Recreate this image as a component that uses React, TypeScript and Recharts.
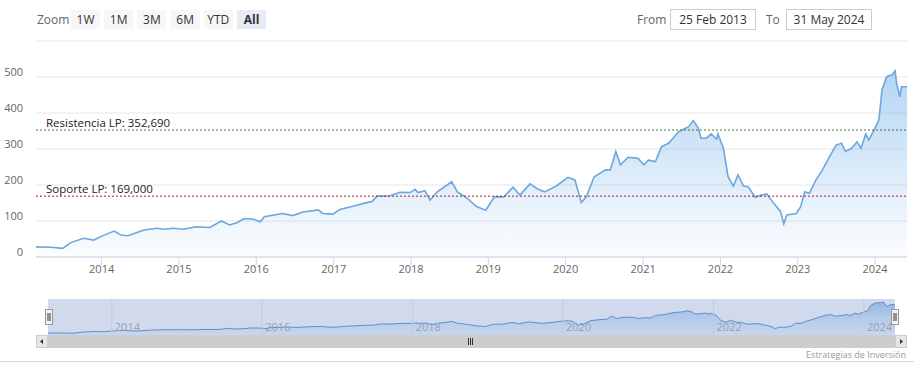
import React from "react";
import {
  Area,
  AreaChart,
  CartesianGrid,
  ReferenceArea,
  ReferenceLine,
  XAxis,
  YAxis,
} from "recharts";

const dates = [
  "2013-02-25", "2013-05-08", "2013-07-01", "2013-08-08", "2013-10-08", "2013-11-25",
  "2014-01-02", "2014-03-01", "2014-04-01", "2014-05-05", "2014-07-20", "2014-09-20",
  "2014-10-20", "2014-12-05", "2015-01-20", "2015-03-25", "2015-05-27", "2015-07-20",
  "2015-08-28", "2015-10-01", "2015-11-06", "2015-12-20", "2016-01-20", "2016-02-08",
  "2016-05-05", "2016-06-22", "2016-08-08", "2016-10-20", "2016-11-10", "2016-12-28",
  "2017-01-30", "2017-04-20", "2017-06-06", "2017-07-01", "2017-07-24", "2017-09-24",
  "2017-11-10", "2017-12-28", "2018-01-20", "2018-02-03", "2018-03-08", "2018-04-01",
  "2018-05-05", "2018-07-12", "2018-08-08", "2018-09-24", "2018-11-06", "2018-12-20",
  "2019-01-30", "2019-03-15", "2019-04-28", "2019-05-30", "2019-07-17", "2019-08-22",
  "2019-09-24", "2019-11-20", "2020-01-12", "2020-02-14", "2020-03-15", "2020-04-08",
  "2020-05-15", "2020-07-08", "2020-07-30", "2020-08-25", "2020-09-16", "2020-10-22",
  "2020-12-08", "2021-01-04", "2021-01-26", "2021-02-28", "2021-03-28", "2021-05-01",
  "2021-06-18", "2021-08-04", "2021-08-26", "2021-09-20", "2021-10-01", "2021-10-27",
  "2021-11-18", "2021-12-14", "2021-12-20", "2022-01-15", "2022-02-06", "2022-03-03",
  "2022-03-25", "2022-04-20", "2022-05-12", "2022-06-14", "2022-07-13", "2022-08-08",
  "2022-09-10", "2022-10-12", "2022-10-27", "2022-11-10", "2022-12-25", "2023-01-15",
  "2023-02-03", "2023-02-25", "2023-03-28", "2023-04-23", "2023-05-27", "2023-07-01",
  "2023-07-27", "2023-08-14", "2023-09-12", "2023-10-08", "2023-10-27", "2023-11-18",
  "2023-12-02", "2023-12-28", "2024-01-19", "2024-02-03", "2024-02-25", "2024-03-22",
  "2024-04-05", "2024-04-12", "2024-04-27", "2024-05-05", "2024-05-31",
];

const prices = [
  28, 27, 24, 40, 52, 47,
  58, 72, 61, 59, 75, 80,
  77, 80, 77, 84, 82, 100,
  89, 95, 107, 105, 98, 112,
  121, 115, 125, 131, 121, 119,
  132, 144, 151, 154, 169, 170,
  180, 179, 188, 179, 184, 158,
  181, 209, 181, 163, 140, 130,
  167, 167, 194, 172, 203, 189,
  181, 198, 221, 214, 151, 167,
  223, 242, 242, 293, 256, 277,
  274, 256, 269, 265, 306, 316,
  348, 362, 379, 357, 330, 330,
  342, 327, 342, 302, 223, 197,
  228, 197, 195, 166, 172, 175,
  149, 126, 92, 117, 121, 140,
  181, 177, 214, 237, 274, 311,
  316, 293, 302, 320, 302, 342,
  325, 353, 380, 464, 501, 506,
  517, 482, 445, 473, 473,
];

const yearTicks = [2014, 2015, 2016, 2017, 2018, 2019, 2020, 2021, 2022, 2023, 2024];
const navYears = [2014, 2016, 2018, 2020, 2022, 2024];
const priceTicks = [0, 100, 200, 300, 400, 500, 600];
const zoomButtons = ["1W", "1M", "3M", "6M", "YTD", "All"];

const resistance = 352.69;
const support = 169;
const fromLabel = "25 Feb 2013";
const toLabel = "31 May 2024";

const seriesData = dates.map((d, i) => ({ ts: Date.parse(d), price: prices[i] }));
const start = Date.parse("2013-02-25");
const end = Date.parse("2024-05-31");
const yearTs = yearTicks.map((y) => Date.parse(`${y}-01-01`));

const font = '"Open Sans", "Liberation Sans", sans-serif';

const fmt = (v: number) => v.toFixed(3).replace(".", ",");

const XTick = ({ x, y, payload }: any) => (
  <text x={x} y={y + 6} textAnchor="middle" fontSize={11} fill="#666" fontFamily={font}>
    {new Date(payload.value).getUTCFullYear()}
  </text>
);

const YTick = ({ y, payload }: any) =>
  payload.value === 600 ? (
    <g />
  ) : (
    <text x={23} y={y - 1} textAnchor="end" fontSize={11} fill="#666" fontFamily={font}>
      {payload.value}
    </text>
  );

const lineLabel = (text: string) => (props: any) => {
  const { viewBox } = props;
  return (
    <text x={viewBox.x + 10} y={viewBox.y - 3} fontSize={11.5} fill="#222" fontFamily={font}>
      {text}
    </text>
  );
};

const navLabel = (text: string) => (props: any) => {
  const { viewBox } = props;
  return (
    <text x={viewBox.x + 3} y={viewBox.y + viewBox.height - 4} fontSize={11} fill="#97a1b4" fontFamily={font}>
      {text}
    </text>
  );
};

function Handle({ left }: { left: number }) {
  return (
    <svg style={{ position: "absolute", left, top: 309 }} width={8} height={16}>
      <rect x={0.5} y={0.5} width={7} height={15} fill="#f2f2f2" stroke="#999" />
      <line x1={3} y1={4} x2={3} y2={12} stroke="#333" />
      <line x1={5} y1={4} x2={5} y2={12} stroke="#333" />
    </svg>
  );
}

function ScrollButton({ left, dir }: { left: number; dir: "l" | "r" }) {
  return (
    <svg style={{ position: "absolute", left, top: 335 }} width={12} height={13}>
      <rect x={0.5} y={0.5} width={11} height={12} fill="#e6e6e6" stroke="#ccc" />
      {dir === "l" ? (
        <path d="M4 6.5 L7 4 L7 9 Z" fill="#333" />
      ) : (
        <path d="M8 6.5 L5 4 L5 9 Z" fill="#333" />
      )}
    </svg>
  );
}

export default function App() {
  return (
    <div
      style={{
        position: "absolute",
        left: 0,
        top: 0,
        width: 914,
        height: 372,
        background: "#fff",
        fontFamily: font,
        overflow: "hidden",
      }}
    >
      {/* range selector */}
      <div style={{ position: "absolute", left: 37, top: 10, height: 19, lineHeight: "19px", fontSize: 12, color: "#666" }}>
        Zoom
      </div>
      {zoomButtons.map((b, i) => (
        <div
          key={b}
          style={{
            position: "absolute",
            left: 71 + i * 33.2,
            top: 10,
            width: 29,
            height: 19,
            lineHeight: "19px",
            textAlign: "center",
            fontSize: 12,
            color: "#333",
            fontWeight: b === "All" ? 700 : 400,
            background: b === "All" ? "#e6ebf5" : "#f7f7f7",
          }}
        >
          {b}
        </div>
      ))}
      <div style={{ position: "absolute", left: 637, top: 10, height: 19, lineHeight: "19px", fontSize: 12, color: "#666" }}>
        From
      </div>
      <div
        style={{
          position: "absolute",
          left: 670,
          top: 9,
          width: 84,
          height: 19,
          lineHeight: "19px",
          border: "1px solid #ccc",
          textAlign: "center",
          fontSize: 12,
          color: "#333",
        }}
      >
        {fromLabel}
      </div>
      <div style={{ position: "absolute", left: 766, top: 10, height: 19, lineHeight: "19px", fontSize: 12, color: "#666" }}>
        To
      </div>
      <div
        style={{
          position: "absolute",
          left: 786,
          top: 9,
          width: 84,
          height: 19,
          lineHeight: "19px",
          border: "1px solid #ccc",
          textAlign: "center",
          fontSize: 12,
          color: "#333",
        }}
      >
        {toLabel}
      </div>

      {/* main chart */}
      <div style={{ position: "absolute", left: 0, top: 0 }}>
        <AreaChart width={914} height={290} data={seriesData} margin={{ top: 41, right: 7, bottom: 0, left: 0 }}>
          <defs>
            <linearGradient id="priceFill" x1="0" y1="0" x2="0" y2="1">
              <stop offset="0%" stopColor="#7cb5ec" stopOpacity={0.95} />
              <stop offset="100%" stopColor="#7cb5ec" stopOpacity={0.04} />
            </linearGradient>
          </defs>
          <CartesianGrid vertical={false} stroke="#e6e6e6" />
          <XAxis
            dataKey="ts"
            type="number"
            domain={[start, end]}
            ticks={yearTs}
            height={33}
            tickSize={8}
            tick={<XTick />}
            stroke="#ccd6eb"
            interval={0}
          />
          <YAxis
            width={36}
            domain={[0, 600]}
            ticks={priceTicks}
            axisLine={false}
            tickLine={false}
            tick={<YTick />}
            interval={0}
          />
          <Area
            type="linear"
            dataKey="price"
            stroke="#6ea6dd"
            strokeWidth={1.6}
            fill="url(#priceFill)"
            dot={false}
            activeDot={false}
            isAnimationActive={false}
          />
          <ReferenceLine
            y={resistance}
            stroke="#3b7a45"
            strokeDasharray="2 2"
            label={lineLabel(`Resistencia LP: ${fmt(resistance)}`)}
          />
          <ReferenceLine
            y={support}
            stroke="#b0182e"
            strokeDasharray="2 2"
            label={lineLabel(`Soporte LP: ${fmt(support)}`)}
          />
        </AreaChart>
      </div>

      {/* navigator */}
      <div style={{ position: "absolute", left: 0, top: 299 }}>
        <AreaChart width={914} height={36} data={seriesData} margin={{ top: 0, right: 19, bottom: 0, left: 48 }}>
          <defs>
            <linearGradient id="navFill" x1="0" y1="0" x2="0" y2="1">
              <stop offset="0%" stopColor="#5f97d8" stopOpacity={0.9} />
              <stop offset="100%" stopColor="#9cc3ec" stopOpacity={0.3} />
            </linearGradient>
          </defs>
          <XAxis dataKey="ts" type="number" domain={[start, end]} hide />
          <YAxis domain={[-4, 564]} hide />
          <ReferenceArea x1={start} x2={end} y1={-4} y2={564} fill="#6685c2" fillOpacity={0.3} stroke="none" />
          {navYears.map((y) => (
            <ReferenceLine
              key={y}
              x={Date.parse(`${y}-01-01`)}
              stroke="#c2cadb"
              label={navLabel(String(y))}
            />
          ))}
          <Area
            type="linear"
            dataKey="price"
            stroke="#5b8fd0"
            strokeWidth={1}
            fill="url(#navFill)"
            dot={false}
            activeDot={false}
            isAnimationActive={false}
          />
        </AreaChart>
      </div>
      <Handle left={45} />
      <Handle left={891} />

      {/* scrollbar */}
      <div style={{ position: "absolute", left: 36, top: 335, width: 871, height: 13, background: "#cdcdcd" }} />
      <ScrollButton left={36} dir="l" />
      <ScrollButton left={895} dir="r" />
      <svg style={{ position: "absolute", left: 467, top: 338 }} width={8} height={7}>
        <line x1={1.5} y1={0} x2={1.5} y2={7} stroke="#333" />
        <line x1={3.5} y1={0} x2={3.5} y2={7} stroke="#333" />
        <line x1={5.5} y1={0} x2={5.5} y2={7} stroke="#333" />
      </svg>

      {/* credits */}
      <div
        style={{
          position: "absolute",
          right: 8,
          top: 348,
          fontSize: 9,
          color: "#999",
          whiteSpace: "nowrap",
        }}
      >
        Estrategias de Inversión
      </div>
      <div style={{ position: "absolute", left: 0, top: 361, width: 914, height: 1, background: "#d6d6d6" }} />
    </div>
  );
}
